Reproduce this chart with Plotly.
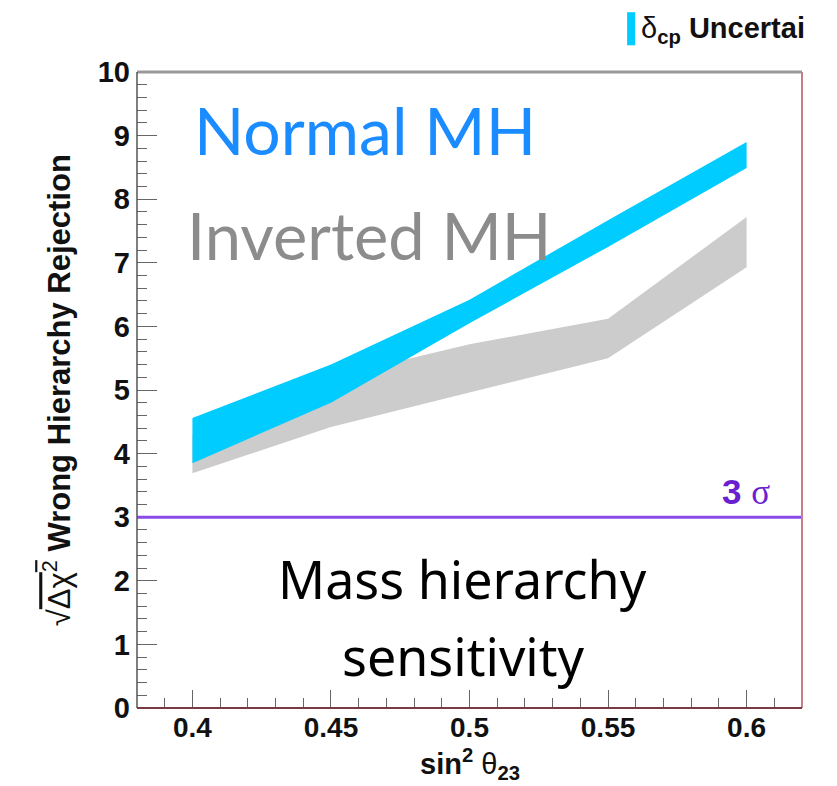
import plotly.graph_objects as go

# sin^2(theta_23) sample points
sin2_theta23 = [0.40, 0.45, 0.50, 0.55, 0.60]

# Normal mass hierarchy: band spanned by delta_CP uncertainty
normal_upper = [4.56, 5.40, 6.42, 7.67, 8.90]
normal_lower = [3.85, 4.80, 6.05, 7.25, 8.49]

# Inverted mass hierarchy band
inverted_upper = [4.30, 5.20, 5.72, 6.12, 7.72]
inverted_lower = [3.69, 4.42, 4.96, 5.50, 6.93]

x_tick_vals = [0.40, 0.45, 0.50, 0.55, 0.60]
x_tick_text = ["0.4", "0.45", "0.5", "0.55", "0.6"]
y_tick_vals = list(range(0, 11))
sigma_level = 3

BLUE = "#00ccff"
GRAY = "#cccccc"
PURPLE = "#8a4ce8"
AXIS_FONT = "Liberation Sans, Arial, sans-serif"


def band(xs, upper, lower):
    return xs + xs[::-1], upper + lower[::-1]


fig = go.Figure()

bx, by = band(sin2_theta23, inverted_upper, inverted_lower)
fig.add_trace(go.Scatter(x=bx, y=by, fill="toself", fillcolor=GRAY,
                         mode="none", hoverinfo="skip", showlegend=False))

bx, by = band(sin2_theta23, normal_upper, normal_lower)
fig.add_trace(go.Scatter(x=bx, y=by, fill="toself", fillcolor=BLUE,
                         mode="none", hoverinfo="skip", showlegend=False))

# 3 sigma reference line
fig.add_shape(type="line", xref="paper", x0=0, x1=1, yref="y",
              y0=sigma_level, y1=sigma_level,
              line=dict(color=PURPLE, width=3))

# frame
fig.add_shape(type="line", xref="paper", yref="paper", x0=0, x1=1, y0=1, y1=1,
              line=dict(color="#999999", width=3))
fig.add_shape(type="line", xref="paper", yref="paper", x0=1, x1=1, y0=0, y1=1,
              line=dict(color="#c4808a", width=2))
fig.add_shape(type="line", xref="paper", yref="paper", x0=0, x1=1, y0=0, y1=0,
              line=dict(color="#7a3a44", width=2))
fig.add_shape(type="line", xref="paper", yref="paper", x0=0, x1=0, y0=0, y1=1,
              line=dict(color="#555555", width=1.5))

# legend swatch
fig.add_shape(type="rect", xref="paper", yref="paper",
              x0=0.737, x1=0.749, y0=1.042, y1=1.094,
              line=dict(width=0), fillcolor=BLUE)

annotations = [
    dict(text="δ<sub><b>cp</b></sub> <b>Uncertai</b>", x=0.755, y=1.066,
         xanchor="left", yanchor="middle",
         font=dict(family=AXIS_FONT, size=29, color="#111111")),
    dict(text="Normal MH", x=0.083, y=0.91, xanchor="left", yanchor="middle",
         font=dict(family="Lato, sans-serif", size=66, color="#1a8cff")),
    dict(text="Inverted MH", x=0.072, y=0.744, xanchor="left", yanchor="middle",
         font=dict(family="Lato, sans-serif", size=65, color="#8c8c8c")),
    dict(text="Mass hierarchy", x=0.49, y=0.203,
         xanchor="center", yanchor="middle",
         font=dict(family="Noto Sans, sans-serif", size=52, color="#000000")),
    dict(text="sensitivity", x=0.49, y=0.083,
         xanchor="center", yanchor="middle",
         font=dict(family="Noto Sans, sans-serif", size=52, color="#000000")),
    dict(text="<b>3</b> <span style='font-family:Liberation Serif, serif'>σ</span>",
         x=0.916, y=0.34, xanchor="center", yanchor="middle",
         font=dict(family=AXIS_FONT, size=35, color="#6a1fd0")),
    dict(text="√<span style='text-decoration:overline'>Δχ<sup>2</sup></span> <b>Wrong Hierarchy Rejection</b>",
         x=-0.12, y=0.5, xanchor="center", yanchor="middle", textangle=-90,
         font=dict(family=AXIS_FONT, size=31, color="#111111")),
    dict(text="<b>sin<sup>2</sup></b> θ<sub><b>23</b></sub>", x=0.5, y=-0.088,
         xanchor="center", yanchor="middle",
         font=dict(family=AXIS_FONT, size=29, color="#111111")),
]
for a in annotations:
    a.update(xref="paper", yref="paper", showarrow=False)
fig.update_layout(annotations=annotations)

fig.update_xaxes(range=[0.38, 0.62], tickvals=x_tick_vals, ticktext=x_tick_text,
                 ticks="inside", ticklen=18, tickwidth=1.2, tickcolor="#666666",
                 minor=dict(dtick=0.01, ticks="inside", ticklen=10, tickcolor="#666666"),
                 showgrid=False, zeroline=False, showline=False,
                 tickfont=dict(family=AXIS_FONT, size=28, color="#111111", weight="bold"))
fig.update_yaxes(range=[0, 10], tickvals=y_tick_vals,
                 ticks="inside", ticklen=20, tickwidth=1.2, tickcolor="#666666",
                 minor=dict(dtick=0.2, ticks="inside", ticklen=10, tickcolor="#666666"),
                 showgrid=False, zeroline=False, showline=False, ticklabelstandoff=6,
                 tickfont=dict(family=AXIS_FONT, size=29, color="#111111", weight="bold"))

fig.update_layout(width=837, height=786,
                  margin=dict(l=137, r=35, t=72, b=78),
                  plot_bgcolor="white", paper_bgcolor="white",
                  showlegend=False)

fig.write_html("out.html")
